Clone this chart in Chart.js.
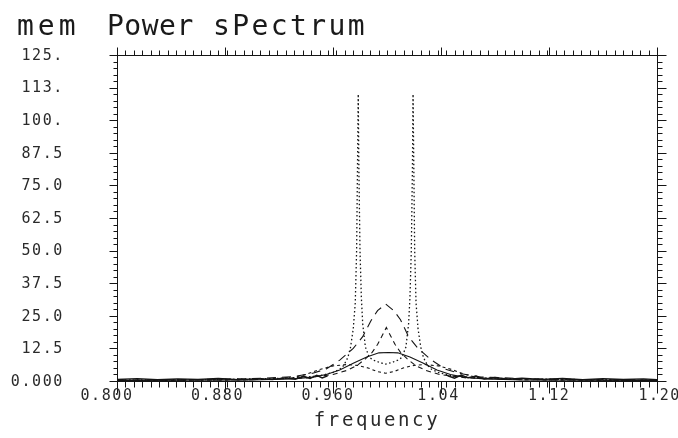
<!DOCTYPE html>
<html><head><meta charset="utf-8">
<script src="https://cdn.jsdelivr.net/npm/chart.js@4.4.1/dist/chart.umd.min.js"></script>
<style>html,body{margin:0;padding:0;background:#fff;overflow:hidden}#wrap{width:678px;height:438px;position:relative}</style>
</head><body><div id="wrap"><canvas id="c" width="678" height="438"></canvas></div>
<script>
// ---- text ----
const titleWords = ["mem", "Power", "sPectrum"];
const xTitle = "frequency";
const xTickValues = [0.80, 0.88, 0.96, 1.04, 1.12, 1.20];
const xTickLabels = ["0.800", "0.880", "0.960", "1.04", "1.12", "1.20"];
const yTickValues = [125, 112.5, 100, 87.5, 75, 62.5, 50, 37.5, 25, 12.5, 0];
const yTickLabels = ["125.", "113.", "100.", "87.5", "75.0", "62.5", "50.0", "37.5", "25.0", "12.5", "0.000"];

// ---- series (frequency, power) ----
const dottedFreq  = [0.800,0.820,0.850,0.880,0.900,0.920,0.940,0.950,0.955,0.960,0.965,0.968,0.971,0.973,0.975,0.9765,0.9775,0.9781,0.9787,0.9792,0.9800,0.9810,0.9820,0.9840,0.9870,0.9900,0.9950,0.9990,1.0030,1.0080,1.0110,1.0140,1.0160,1.0170,1.0180,1.0188,1.0193,1.0199,1.0205,1.0215,1.0230,1.0250,1.0270,1.0300,1.0330,1.0380,1.0430,1.0480,1.0600,1.0800,1.1000,1.1300,1.1600,1.2000];
const dottedPower = [0.3,0.4,0.5,0.6,0.8,1.0,1.5,2.0,2.6,3.3,4.5,6.0,9.0,13,20,30,50,80,110,80,50,32,22,13,9,8,7,6.5,7,8,9,13,22,32,50,80,110,80,50,30,20,13,9,6,4.5,3.3,2.6,2.0,1.4,1.0,0.8,0.6,0.5,0.3];

const longDashFreq  = [0.800,0.850,0.900,0.930,0.945,0.955,0.965,0.975,0.982,0.988,0.993,0.999,1.005,1.010,1.016,1.023,1.033,1.043,1.053,1.068,1.100,1.150,1.200];
const longDashPower = [0.3,0.5,0.9,1.6,3.0,4.6,8.0,12.5,17,23,27,29.5,27,23.5,17,12.5,8.0,4.6,3.0,1.6,0.9,0.5,0.3];

const dashedFreq  = [0.800,0.900,0.940,0.960,0.970,0.978,0.984,0.989,0.993,0.996,0.9995,1.003,1.006,1.010,1.015,1.021,1.029,1.039,1.059,1.100,1.200];
const dashedPower = [0.2,0.5,1.2,2.5,4.0,6.0,8.5,11,14,17,20.5,17,14,11,8.5,6.0,4.0,2.5,1.2,0.5,0.2];

const solidFreq  = [0.800,0.900,0.930,0.945,0.955,0.965,0.975,0.985,0.994,1.001,1.008,1.017,1.027,1.037,1.047,1.057,1.072,1.100,1.200];
const solidPower = [0.2,0.4,0.8,1.5,2.5,4.2,6.8,9.2,10.8,10.9,10.8,9.2,6.8,4.2,2.5,1.5,0.8,0.4,0.2];

const shortDashFreq  = [0.800,0.900,0.930,0.940,0.950,0.960,0.970,0.978,0.986,0.993,0.999,1.005,1.012,1.020,1.028,1.038,1.048,1.058,1.068,1.100,1.200];
const shortDashPower = [0.2,0.5,1.2,2.5,4.4,5.8,6.3,6.0,5.0,3.6,3.0,3.6,5.0,6.0,6.3,5.8,4.4,2.5,1.2,0.5,0.2];

const baseFreq  = [0.800,0.815,0.830,0.845,0.860,0.875,0.890,0.905,0.915,0.925,0.932,0.938,0.943,0.948,0.952,0.956,1.000,1.045,1.050,1.055,1.060,1.066,1.072,1.080,1.090,1.100,1.115,1.130,1.145,1.160,1.175,1.190,1.200];
const basePower = [0.6,0.9,0.5,0.8,0.6,1.0,0.5,0.9,0.6,1.2,0.7,1.8,1.0,2.2,1.2,2.0,null,2.0,1.1,2.3,1.2,1.9,0.8,1.4,0.7,1.1,0.6,1.0,0.5,0.9,0.6,0.8,0.5];

function pts(fx, py) { return fx.map((f, i) => ({ x: f, y: py[i] })); }
const INK = '#151515';
function ds(data, dash, w) {
  return { data, showLine: true, borderColor: INK, borderWidth: w || 1.1, borderDash: dash,
           pointRadius: 0, pointHoverRadius: 0, tension: 0, spanGaps: false, fill: false };
}

const framePlugin = {
  id: 'frame',
  afterDraw(chart) {
    const ctx = chart.ctx, a = chart.chartArea, xs = chart.scales.x, ys = chart.scales.y;
    ctx.save();
    ctx.strokeStyle = INK; ctx.lineWidth = 1;
    const L = Math.round(a.left) + 0.5, R = Math.round(a.right) + 0.5, T = Math.round(a.top) + 0.5, B = Math.round(a.bottom) + 0.5;
    ctx.beginPath(); ctx.rect(L, T, R - L, B - T); ctx.stroke();
    ctx.beginPath();
    for (let i = 0; i <= 64; i++) {
      const px = Math.round(xs.getPixelForValue(0.8 + i * 0.00625)) + 0.5;
      ctx.moveTo(px, B); ctx.lineTo(px, B + 6);
      ctx.moveTo(px, T); ctx.lineTo(px, T - 5);
    }
    xTickValues.forEach(v => {
      const px = Math.round(xs.getPixelForValue(v)) + 0.5;
      ctx.moveTo(px, B); ctx.lineTo(px, B + 12);
      ctx.moveTo(px, T); ctx.lineTo(px, T - 8);
    });
    for (let i = 0; i <= 50; i++) {
      const py = Math.round(ys.getPixelForValue(i * 2.5)) + 0.5;
      ctx.moveTo(L, py); ctx.lineTo(L - 4, py);
      ctx.moveTo(R, py); ctx.lineTo(R + 5, py);
    }
    yTickValues.forEach(v => {
      const py = Math.round(ys.getPixelForValue(v)) + 0.5;
      ctx.moveTo(L, py); ctx.lineTo(L - 8, py);
      ctx.moveTo(R, py); ctx.lineTo(R + 9, py);
    });
    ctx.stroke();

    // tick labels
    ctx.fillStyle = '#2a2a2a';
    ctx.font = "15px 'DejaVu Sans Mono'";
    ctx.letterSpacing = '1.6px';
    ctx.textBaseline = 'middle';
    ctx.textAlign = 'center';
    const x0 = a.left;
    xTickValues.forEach((v, i) => {
      const px = xs.getPixelForValue(v);
      const cx = x0 + (px - x0) * 1.0235 - 10;
      ctx.fillText(xTickLabels[i], cx, B + 15);
    });
    ctx.textAlign = 'right';
    yTickValues.forEach((v, i) => {
      const py = ys.getPixelForValue(v);
      ctx.fillText(yTickLabels[i], 64, py + 1);
    });

    // axis title
    ctx.font = "19px 'DejaVu Sans Mono'";
    ctx.letterSpacing = '2.6px';
    ctx.textAlign = 'center';
    ctx.textBaseline = 'alphabetic';
    ctx.fillText(xTitle, (a.left + a.right) / 2 - 10, 426);

    // chart title
    ctx.fillStyle = '#1a1a1a';
    ctx.font = "28px 'DejaVu Sans Mono'";
    ctx.textAlign = 'left';
    const wx = [17, 107, 213];
    const sp = ['4px', '0.5px', '2.4px'];
    titleWords.forEach((w, i) => { ctx.letterSpacing = sp[i]; ctx.fillText(w, wx[i], 35); });
    ctx.restore();
  }
};

new Chart(document.getElementById('c'), {
  type: 'scatter',
  data: {
    datasets: [
      ds(pts(baseFreq, basePower), [], 1.4),
      ds(pts(shortDashFreq, shortDashPower), [3, 3]),
      ds(pts(solidFreq, solidPower), []),
      ds(pts(dashedFreq, dashedPower), [5, 4]),
      ds(pts(longDashFreq, longDashPower), [9, 6]),
      ds(pts(dottedFreq, dottedPower), [1.5, 2.5], 1.3)
    ]
  },
  options: {
    responsive: false, animation: false, devicePixelRatio: 1,
    layout: { padding: { top: 55, right: 21, left: 0, bottom: 0 } },
    plugins: { legend: { display: false }, tooltip: { enabled: false }, title: { display: false } },
    scales: {
      x: { type: 'linear', min: 0.8, max: 1.2,
           ticks: { display: false }, grid: { display: false }, border: { display: false },
           afterFit: s => { s.height = 57; } },
      y: { type: 'linear', min: 0, max: 125,
           ticks: { display: false }, grid: { display: false }, border: { display: false },
           afterFit: s => { s.width = 117; } }
    }
  },
  plugins: [framePlugin]
});
</script></body></html>
